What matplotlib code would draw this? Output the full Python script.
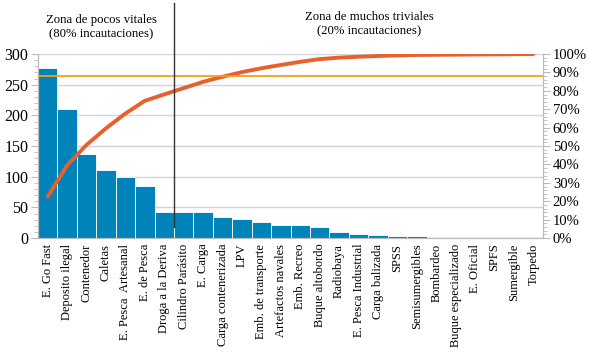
import matplotlib
matplotlib.use("Agg")
import matplotlib.pyplot as plt
from matplotlib.ticker import MultipleLocator, PercentFormatter

categorias = ['E. Go Fast', 'Deposito ilegal', 'Contenedor', 'Caletas',
              'E. Pesca  Artesanal', 'E. de Pesca', 'Droga a la Deriva',
              'Cilindro Parásito', 'E. Carga', 'Carga contenerizada', 'LPV',
              'Emb. de transporte', 'Artefactos navales', 'Emb. Recreo',
              'Buque altobordo', 'Radiobaya', 'E. Pesca Industrial',
              'Carga balizada', 'SPSS', 'Semisumergibles', 'Bombardeo',
              'Buque especializado', 'E. Oficial', 'SPFS', 'Sumergible', 'Torpedo']
incautaciones = [277, 210, 137, 111, 99, 85, 43, 42, 42, 34, 31, 26, 22, 21,
                 18, 10, 6, 5, 4, 3, 1, 1, 1, 1, 1, 1]
umbral = 88  # % linea horizontal
corte = 7    # limite entre zonas (despues de "Droga a la Deriva")

total = sum(incautaciones)
acum = []
s = 0
for v in incautaciones:
    s += v
    acum.append(s / total * 100)

plt.rcParams['font.family'] = ['Liberation Serif', 'DejaVu Serif']

fig = plt.figure(figsize=(5.89, 3.58), dpi=100)
ax = fig.add_axes([0.0645, 0.335, 0.8575, 0.514])
x = list(range(len(categorias)))

ax.bar(x, incautaciones, width=1.0, color='#0083B9', edgecolor='white', linewidth=0.6, zorder=2)
ax.set_xlim(-0.5, len(categorias) - 0.5)
ax.set_ylim(0, 300)
ax.yaxis.set_major_locator(MultipleLocator(50))
ax.yaxis.set_minor_locator(MultipleLocator(10))
ax.grid(axis='y', color='#d4d4d4', linewidth=1, zorder=0)
ax.set_xticks(x)
ax.set_xticklabels(categorias, rotation=90, fontsize=9)
ax.tick_params(axis='x', length=0, pad=4)
ax.tick_params(axis='y', which='both', colors='#bbbbbb', labelcolor='black', labelsize=11.5, pad=2)
ax.tick_params(axis='y', which='major', length=5)
ax.tick_params(axis='y', which='minor', length=3)
ax.spines['top'].set_visible(False)
for sp in ['left', 'bottom', 'right']:
    ax.spines[sp].set_color('#bbbbbb')

ax2 = ax.twinx()
ax2.plot(x, acum, color='#E8602C', linewidth=2.8, solid_capstyle='round', zorder=3)
ax2.axhline(umbral, color='#F5A01E', linewidth=1.3, zorder=3)
ax2.set_ylim(0, 100)
ax2.yaxis.set_major_locator(MultipleLocator(10))
ax2.yaxis.set_minor_locator(MultipleLocator(2))
ax2.yaxis.set_major_formatter(PercentFormatter(decimals=0))
ax2.tick_params(axis='y', which='both', colors='#bbbbbb', labelcolor='black', labelsize=10.5, pad=2)
ax2.tick_params(axis='y', which='major', length=5)
ax2.tick_params(axis='y', which='minor', length=3)
ax2.spines['top'].set_visible(False)
for sp in ['left', 'bottom', 'right']:
    ax2.spines[sp].set_color('#bbbbbb')

ax2.axvline(corte - 0.5, ymin=0.06, ymax=1.277, color='#333333', linewidth=1, clip_on=False, zorder=4)

fig.text(101 / 589, 1 - 20 / 358, 'Zona de pocos vitales', ha='center', va='center', fontsize=9.2)
fig.text(101 / 589, 1 - 34 / 358, '(80% incautaciones)', ha='center', va='center', fontsize=9.2)
fig.text(369 / 589, 1 - 17 / 358, 'Zona de muchos triviales', ha='center', va='center', fontsize=9.2)
fig.text(369 / 589, 1 - 31 / 358, '(20% incautaciones)', ha='center', va='center', fontsize=9.2)

fig.savefig('out.png', dpi=100)
